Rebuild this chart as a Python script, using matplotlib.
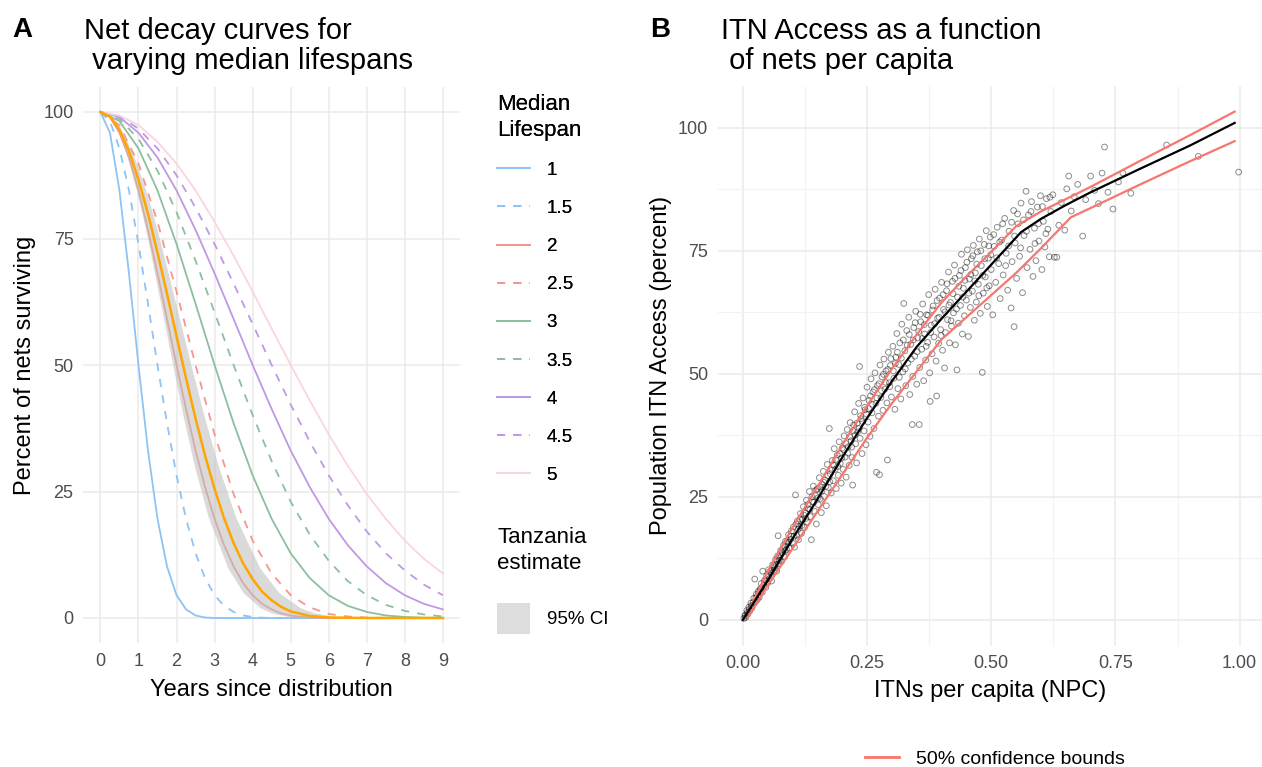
import matplotlib
matplotlib.use("Agg")
import matplotlib.pyplot as plt
from matplotlib.lines import Line2D
from matplotlib.patches import Patch

plt.rcParams['font.family'] = ['Liberation Sans', 'DejaVu Sans']

# ---------------- Panel A: net decay curves ----------------
median_labels = ["1", "1.5", "2", "2.5", "3", "3.5", "4", "4.5", "5"]
line_colors = ["#8EC3F4", "#8EC3F4", "#F6968E", "#F6968E", "#8DBF9F",
               "#8DBF9F", "#BF98E6", "#BF98E6", "#F9D6DF"]
line_styles = ["solid", "dashed"] * 4 + ["solid"]

years_m1 = [0, 0.25, 0.5, 0.75, 1.0, 1.25, 1.5, 1.75, 2.0, 2.25, 2.5, 2.75, 3.0, 9.0]
surv_m1 = [100, 95.9, 84.5, 68.1, 50.0, 33.1, 19.6, 10.2, 4.5, 1.7, 0.5, 0.1, 0.0, 0.0]

years_m15 = [0, 0.25, 0.5, 0.75, 1.0, 1.25, 1.5, 1.75, 2.0, 2.25, 2.5, 2.75, 3.0,
             3.25, 3.5, 3.75, 4.0, 4.25, 4.5, 9.0]
surv_m15 = [100, 98.2, 92.8, 84.5, 73.9, 62.1, 50.0, 38.5, 28.2, 19.6, 12.8, 7.9, 4.5,
            2.4, 1.2, 0.5, 0.2, 0.06, 0.02, 0.0]

years_m2 = [0, 0.25, 0.5, 0.75, 1.0, 1.25, 1.5, 1.75, 2.0, 2.25, 2.5, 2.75, 3.0,
            3.25, 3.5, 3.75, 4.0, 4.25, 4.5, 4.75, 5.0, 5.25, 5.5, 5.75, 6.0, 9.0]
surv_m2 = [100, 99.0, 95.9, 91.0, 84.5, 76.7, 68.1, 59.1, 50.0, 41.3, 33.1, 25.9, 19.6,
           14.4, 10.2, 6.9, 4.5, 2.8, 1.7, 0.9, 0.5, 0.25, 0.11, 0.05, 0.02, 0.0]

years_half = [0, 0.5, 1.0, 1.5, 2.0, 2.5, 3.0, 3.5, 4.0, 4.5, 5.0, 5.5, 6.0, 6.5,
              7.0, 7.5, 8.0, 8.5, 9.0]
surv_m25 = [100, 97.4, 89.8, 78.3, 64.5, 50.0, 36.3, 24.5, 15.3, 8.8, 4.5, 2.1, 0.8,
            0.3, 0.08, 0.02, 0.0, 0.0, 0.0]
surv_m3 = [100, 98.2, 92.8, 84.5, 73.9, 62.1, 50.0, 38.5, 28.2, 19.6, 12.8, 7.9, 4.5,
           2.4, 1.2, 0.5, 0.2, 0.06, 0.02]
surv_m35 = [100, 98.6, 94.7, 88.4, 80.2, 70.6, 60.4, 50.0, 40.1, 31.0, 23.0, 16.5, 11.3,
            7.3, 4.5, 2.6, 1.4, 0.7, 0.3]
surv_m4 = [100, 99.0, 95.9, 91.0, 84.5, 76.7, 68.1, 59.1, 50.0, 41.3, 33.1, 25.9, 19.6,
           14.4, 10.2, 6.9, 4.5, 2.8, 1.7]
surv_m45 = [100, 99.2, 96.7, 92.8, 87.5, 81.1, 73.9, 66.1, 58.1, 50.0, 42.2, 34.9, 28.2,
            22.3, 17.1, 12.8, 9.4, 6.6, 4.5]
surv_m5 = [100, 99.3, 97.4, 94.1, 89.8, 84.5, 78.3, 71.6, 64.5, 57.2, 50.0, 43.0, 36.3,
           30.1, 24.5, 19.6, 15.3, 11.7, 8.8]

curve_years = [years_m1, years_m15, years_m2, years_half, years_half,
               years_half, years_half, years_half, years_half]
curve_surv = [surv_m1, surv_m15, surv_m2, surv_m25, surv_m3,
              surv_m35, surv_m4, surv_m45, surv_m5]

# Tanzania estimate and its 95% CI
years_tz = [0, 0.25, 0.5, 0.75, 1.0, 1.25, 1.5, 1.75, 2.0, 2.25, 2.5, 2.75, 3.0,
            3.25, 3.5, 3.75, 4.0, 4.25, 4.5, 4.75, 5.0, 5.5, 6.0, 7.0, 9.0]
surv_tz = [100, 99.1, 96.5, 92.3, 86.6, 79.9, 72.2, 64.1, 55.7, 47.4, 39.4, 32.1, 25.5,
           19.7, 14.8, 10.8, 7.7, 5.2, 3.5, 2.2, 1.3, 0.4, 0.1, 0.0, 0.0]
ci_levels = [100, 99, 97, 95, 90, 85, 80, 75, 70, 60, 50, 40, 30, 20, 10, 5, 2, 1, 0.3, 0.1, 0]
ci_lower_years = [0, 0.23, 0.40, 0.53, 0.75, 0.93, 1.09, 1.24, 1.37, 1.64, 1.90, 2.17,
                  2.47, 2.83, 3.34, 3.75, 4.20, 4.49, 4.93, 5.26, 6.0]
ci_upper_years = [0, 0.29, 0.51, 0.66, 0.94, 1.17, 1.37, 1.55, 1.72, 2.05, 2.38, 2.72,
                  3.10, 3.55, 4.18, 4.69, 5.26, 5.63, 6.17, 6.59, 9.0]

# ---------------- Panel B: ITN access vs nets per capita ----------------
npc_fit = [0, 0.05, 0.1, 0.15, 0.2, 0.25, 0.3, 0.35, 0.4, 0.45, 0.5, 0.56,
           0.6, 0.65, 0.7, 0.8, 0.9, 0.99]
access_fit = [0, 8, 16.5, 24.5, 33, 41, 48.5, 55.5, 61.2, 66.7, 72.2, 78.8,
              81.5, 84.3, 86.9, 91.7, 96.4, 101]
npc_upper = [0.01, 0.05, 0.1, 0.15, 0.2, 0.25, 0.3, 0.35, 0.4, 0.45, 0.5, 0.55,
             0.6, 0.65, 0.7, 0.8, 0.9, 0.99]
access_upper = [1.5, 9.8, 18.8, 27, 35.5, 43.5, 51, 58, 64.5, 69.8, 74.8, 80,
                83, 85.5, 88, 93.3, 98.5, 103.3]
npc_lower = [0.01, 0.05, 0.1, 0.15, 0.2, 0.25, 0.3, 0.35, 0.4, 0.45, 0.5, 0.55,
             0.6, 0.66, 0.7, 0.8, 0.9, 0.99]
access_lower = [0.5, 7, 14.5, 22, 29.5, 37, 44, 50.5, 57, 61.5, 66, 70.5,
                75.5, 81.8, 83.7, 88.5, 93.2, 97.3]

obs_npc = [
    0.002, 0.004, 0.006, 0.008, 0.010, 0.012, 0.014, 0.016, 0.018, 0.020, 0.022, 0.024, 0.025,
    0.027, 0.029, 0.031, 0.033, 0.035, 0.037, 0.039, 0.040, 0.042, 0.044, 0.046, 0.048, 0.050,
    0.052, 0.054, 0.056, 0.058, 0.060, 0.062, 0.064, 0.066, 0.068, 0.070, 0.071, 0.072, 0.074,
    0.076, 0.078, 0.080, 0.082, 0.084, 0.086, 0.088, 0.090, 0.092, 0.094, 0.096, 0.098, 0.100,
    0.102, 0.104, 0.106, 0.108, 0.110, 0.112, 0.114, 0.116, 0.118, 0.120, 0.122, 0.124, 0.126,
    0.128, 0.130, 0.132, 0.134, 0.136, 0.138, 0.140, 0.142, 0.144, 0.146, 0.148, 0.150, 0.152,
    0.154, 0.156, 0.158, 0.160, 0.162, 0.164, 0.166, 0.168, 0.170, 0.172, 0.174, 0.176, 0.178,
    0.180, 0.182, 0.184, 0.186, 0.188, 0.190, 0.192, 0.194, 0.196, 0.198, 0.200,
    0.202, 0.204, 0.206, 0.208, 0.210, 0.212, 0.214, 0.216, 0.218, 0.220, 0.221, 0.223, 0.225,
    0.227, 0.229, 0.231, 0.233, 0.235, 0.236, 0.238, 0.240, 0.242, 0.244, 0.246, 0.248, 0.250,
    0.252, 0.254, 0.256, 0.258, 0.260, 0.262, 0.264, 0.266, 0.268, 0.269, 0.271, 0.273, 0.275,
    0.276, 0.278, 0.280, 0.282, 0.284, 0.286, 0.288, 0.290, 0.291, 0.293, 0.295, 0.297, 0.299,
    0.302, 0.304, 0.306, 0.308, 0.310, 0.312, 0.314, 0.316, 0.318, 0.320, 0.322, 0.324, 0.326,
    0.328, 0.330, 0.332, 0.334, 0.336, 0.338, 0.341, 0.342, 0.344, 0.346, 0.348, 0.350, 0.352,
    0.355, 0.356, 0.358, 0.360, 0.362, 0.364, 0.366, 0.368, 0.370, 0.372, 0.374, 0.376, 0.377,
    0.379, 0.381, 0.383, 0.385, 0.387, 0.389, 0.390, 0.392, 0.394, 0.396, 0.398, 0.400,
    0.402, 0.404, 0.406, 0.408, 0.410, 0.412, 0.414, 0.416, 0.418, 0.420, 0.422, 0.424, 0.426,
    0.428, 0.431, 0.432, 0.434, 0.436, 0.438, 0.440, 0.442, 0.444, 0.446, 0.448, 0.450, 0.452,
    0.454, 0.456, 0.458, 0.460, 0.462, 0.464, 0.466, 0.468, 0.470, 0.472, 0.474, 0.476, 0.478,
    0.480, 0.482, 0.484, 0.486, 0.488, 0.490, 0.492, 0.494, 0.496, 0.498, 0.500,
    0.503, 0.506, 0.509, 0.512, 0.515, 0.518, 0.521, 0.524, 0.527, 0.530, 0.533, 0.536, 0.540,
    0.542, 0.545, 0.546, 0.548, 0.551, 0.554, 0.557, 0.560, 0.563, 0.566, 0.570, 0.572, 0.575,
    0.578, 0.581, 0.584, 0.587, 0.590, 0.593, 0.596, 0.599, 0.602, 0.605, 0.608, 0.611, 0.614,
    0.617, 0.620,
    0.624, 0.627, 0.632, 0.636, 0.641, 0.648, 0.652, 0.656, 0.661, 0.667, 0.674, 0.684, 0.690,
    0.700, 0.708, 0.716, 0.723, 0.728, 0.735, 0.745, 0.756, 0.765, 0.781, 0.853, 0.917, 0.998,
    0.005, 0.009, 0.013, 0.017, 0.021, 0.026, 0.030, 0.034, 0.038, 0.043, 0.047, 0.051, 0.055,
    0.059, 0.063, 0.067, 0.073, 0.077, 0.081, 0.085, 0.089, 0.093, 0.097,
    0.103, 0.107, 0.111, 0.115, 0.119, 0.123, 0.127, 0.131, 0.135, 0.139, 0.143, 0.147, 0.151,
    0.155, 0.159, 0.163, 0.167, 0.171, 0.175, 0.179, 0.183, 0.187, 0.191, 0.195, 0.199,
    0.203, 0.207, 0.211, 0.215, 0.219, 0.222, 0.226, 0.230, 0.234, 0.237, 0.241, 0.245, 0.249,
    0.253, 0.257, 0.261, 0.265, 0.270, 0.274, 0.279, 0.283, 0.287, 0.292, 0.296, 0.298,
    0.303, 0.307, 0.311, 0.315, 0.319, 0.323, 0.327, 0.331, 0.335, 0.339, 0.343, 0.347, 0.351,
    0.354, 0.357, 0.361, 0.365, 0.369, 0.373, 0.378, 0.382, 0.386, 0.391, 0.395, 0.399,
    0.403, 0.407, 0.411, 0.415, 0.419, 0.423, 0.427, 0.430, 0.435, 0.439, 0.443, 0.447, 0.451,
    0.455, 0.459, 0.463, 0.467, 0.471, 0.475, 0.479, 0.483, 0.487, 0.491, 0.495, 0.499,
    0.505, 0.511, 0.517, 0.523, 0.529, 0.535, 0.541, 0.547, 0.553, 0.559, 0.565, 0.571, 0.580,
    0.588, 0.595, 0.603, 0.610, 0.618,
]
obs_access = [
    0.3, 0.8, 0.5, 1.9, 1.2, 2.6, 1.8, 3.4, 2.4, 3.0, 4.4, 8.3, 3.6,
    5.2, 4.1, 5.8, 4.6, 6.3, 7.4, 5.6, 9.9, 7.0, 8.1, 6.6, 9.0, 7.5,
    10.2, 8.4, 9.5, 7.9, 11.2, 9.8, 10.6, 12.3, 9.9, 13.0, 17.1, 11.4, 12.6,
    14.1, 11.9, 13.7, 15.2, 12.8, 16.0, 14.3, 15.5, 17.3, 14.6, 16.4, 18.1, 15.6,
    18.9, 14.8, 25.4, 17.2, 20.1, 16.3, 19.0, 21.6, 17.6, 20.4, 23.0, 18.8, 21.7,
    24.3, 19.9, 22.6, 26.1, 21.0, 16.3, 24.0, 27.2, 22.1, 25.3, 19.5, 26.6, 23.4,
    28.9, 24.6, 21.8, 27.5, 30.2, 25.1, 28.4, 23.2, 31.6, 26.9, 38.9, 29.7, 25.8,
    32.4, 28.3, 34.8, 30.6, 26.7, 33.5, 29.4, 36.2, 31.8, 27.8, 34.9,
    30.6, 37.4, 33.1, 29.0, 38.7, 35.2, 31.4, 40.1, 36.4, 33.0, 27.4, 39.6, 42.3,
    35.8, 31.9, 38.2, 44.0, 51.5, 36.9, 40.9, 33.8, 45.1, 38.4, 42.7, 35.6, 47.3,
    40.2, 44.6, 37.3, 49.0, 42.1, 46.3, 38.9, 50.2, 44.0, 30.0, 47.6, 41.4, 29.5,
    51.8, 45.2, 49.4, 42.6, 53.0, 46.9, 50.6, 44.1, 32.5, 54.4, 48.2, 51.7, 45.3,
    55.6, 49.1, 42.8, 53.4, 58.2, 47.0, 51.9, 56.3, 44.9, 60.1, 50.4, 64.3, 54.7,
    47.6, 58.8, 52.2, 61.5, 45.8, 56.0, 39.7, 49.5, 59.4, 53.6, 62.7, 47.9, 57.3,
    39.7, 51.3, 60.6, 55.0, 64.2, 48.6, 58.1, 52.8, 62.0, 56.4, 66.1, 50.2, 44.4,
    59.9, 54.1, 63.8, 57.5, 67.2, 52.6, 45.5, 61.3, 56.2, 65.4, 59.0, 68.6,
    54.8, 63.1, 51.2, 58.4, 66.9, 61.0, 70.7, 56.3, 64.5, 59.7, 68.8, 62.4, 72.1,
    55.9, 50.8, 65.6, 60.3, 70.0, 63.9, 74.3, 58.1, 67.4, 61.8, 71.6, 65.0, 75.2,
    57.6, 69.3, 63.5, 73.4, 66.8, 76.1, 60.9, 70.5, 64.6, 74.8, 68.2, 77.4, 62.3,
    72.0, 50.3, 66.4, 76.3, 69.7, 79.1, 63.7, 73.5, 67.9, 77.8, 71.2,
    62.0, 75.9, 68.6, 79.8, 72.4, 65.3, 77.2, 70.1, 81.6, 74.5, 67.0, 79.0, 63.4,
    72.8, 83.2, 59.6, 76.6, 69.4, 80.5, 73.9, 84.7, 66.5, 78.1, 87.1, 71.6, 82.3,
    75.3, 85.0, 69.8, 79.6, 73.0, 83.9, 77.0, 86.2, 71.2, 81.0, 75.8, 85.6, 79.4,
    73.8, 83.0,
    86.4, 73.7, 73.7, 80.2, 84.8, 79.2, 87.6, 90.2, 83.1, 86.0, 88.5, 78.0, 85.4,
    90.2, 87.3, 84.6, 90.8, 96.1, 86.9, 83.5, 89.0, 90.8, 86.7, 96.5, 94.2, 91.0,
    1.0, 1.5, 2.2, 2.9, 3.6, 4.5, 5.0, 5.9, 6.5, 7.6, 8.2, 8.8, 9.9,
    10.1, 11.0, 11.3, 12.1, 13.2, 14.5, 14.0, 15.9, 15.8, 17.0,
    17.0, 19.5, 18.4, 20.5, 19.2, 21.3, 20.6, 23.5, 22.4, 25.0, 23.9, 26.4, 24.8,
    27.0, 26.2, 28.0, 27.1, 29.3, 28.1, 30.5, 31.4, 32.6, 31.2, 33.8, 32.9,
    34.6, 35.9, 33.9, 37.2, 35.1, 38.4, 37.6, 40.0, 38.9, 41.5, 40.3, 43.2, 41.8,
    42.9, 45.5, 43.8, 46.8, 45.1, 48.0, 46.6, 49.9, 48.3, 50.9, 47.4, 53.1,
    50.6, 52.1, 54.4, 49.3, 53.2, 56.9, 51.0, 55.8, 58.0, 53.0, 56.9, 60.4, 54.5,
    58.6, 62.1, 57.2, 60.0, 55.6, 61.9, 58.4, 63.0, 60.2, 64.9, 61.5, 57.8,
    66.1, 62.6, 68.3, 64.0, 60.8, 66.3, 69.4, 63.2, 67.8, 71.0, 65.6, 69.0, 72.7,
    66.4, 70.2, 74.0, 68.9, 72.3, 65.9, 75.0, 70.0, 73.4, 67.5, 76.0, 74.2,
    78.3, 73.6, 76.8, 80.5, 72.0, 76.0, 80.8, 78.0, 82.5, 75.6, 81.3, 79.0, 83.0,
    76.5, 80.5, 84.0, 78.5, 85.9,
]

W, H = 1262, 767
fig = plt.figure(figsize=(W / 100, H / 100), dpi=100)

grid_col = "#EBEBEB"
tick_col = "#4D4D4D"


def style_axes(ax):
    for sp in ax.spines.values():
        sp.set_visible(False)
    ax.tick_params(length=0, labelsize=13, labelcolor=tick_col, pad=7)
    ax.grid(True, which="major", color=grid_col, lw=1.1)
    ax.set_axisbelow(True)


# ---- Panel A ----
axA = fig.add_axes([83.3 / W, 1 - 643.3 / H, 376.7 / W, 556.6 / H])
style_axes(axA)
handles = []
for yrs, sv, lab, col, ls in zip(curve_years, curve_surv, median_labels, line_colors, line_styles):
    dash = (0, (4.5, 4.5)) if ls == "dashed" else "-"
    ln, = axA.plot(yrs, sv, color=col, lw=1.3, linestyle=dash, label=lab, zorder=2)
    handles.append(ln)
axA.fill_betweenx(ci_levels, ci_lower_years, ci_upper_years, color="#BDBDBD",
                  alpha=0.55, lw=0, zorder=3)
axA.plot(years_tz, surv_tz, color="#FFA500", lw=1.8, zorder=4)
axA.set_xlim(-0.45, 9.45)
axA.set_ylim(-5, 105)
axA.set_xticks(range(0, 10))
axA.set_yticks([0, 25, 50, 75, 100])
axA.set_xlabel("Years since distribution", fontsize=17)
axA.set_ylabel("Percent of nets surviving", fontsize=17)
axA.xaxis.set_label_coords(0.5, -0.064)
axA.yaxis.set_label_coords(-0.125, 0.5)

leg1 = fig.legend(handles=handles, labels=median_labels, loc="upper left",
                  bbox_to_anchor=(497 / W, 1 - 94 / H), frameon=False,
                  title="Median\nLifespan", title_fontsize=16, fontsize=13.5,
                  handlelength=1.75, handletextpad=0.9, labelspacing=1.12,
                  borderpad=0, borderaxespad=0, alignment="left")
leg1.get_title().set_linespacing(1.3)
fig.add_artist(leg1)
ci_patch = Patch(facecolor="#DDDDDD", edgecolor="none")
leg2 = fig.legend(handles=[ci_patch], labels=["95% CI"], loc="upper left",
                  bbox_to_anchor=(497 / W, 1 - 527 / H), frameon=False,
                  title="Tanzania\nestimate", title_fontsize=16, fontsize=13.5,
                  handlelength=1.75, handleheight=2.2, handletextpad=0.9,
                  labelspacing=1.55, borderpad=0, borderaxespad=0, alignment="left")
leg2.get_title().set_linespacing(1.3)

# ---- Panel B ----
axB = fig.add_axes([718 / W, 1 - 645.5 / H, 544 / W, 559.5 / H])
style_axes(axB)
axB.grid(True, which="minor", color="#F2F2F2", lw=0.8)
axB.scatter(obs_npc, obs_access, s=17, facecolors="none", edgecolors="black",
            linewidths=0.7, alpha=0.45, zorder=2)
axB.plot(npc_upper, access_upper, color="#F8766D", lw=1.6, zorder=3)
axB.plot(npc_lower, access_lower, color="#F8766D", lw=1.6, zorder=3)
axB.plot(npc_fit, access_fit, color="black", lw=1.6, zorder=4)
axB.set_xlim(-0.05, 1.045)
axB.set_ylim(-5.2, 108.5)
axB.set_xticks([0, 0.25, 0.5, 0.75, 1.0])
axB.set_xticklabels(["0.00", "0.25", "0.50", "0.75", "1.00"])
axB.set_xticks([0.125, 0.375, 0.625, 0.875], minor=True)
axB.set_yticks([0, 25, 50, 75, 100])
axB.set_yticks([12.5, 37.5, 62.5, 87.5], minor=True)
axB.tick_params(which="minor", length=0)
axB.set_xlabel("ITNs per capita (NPC)", fontsize=17)
axB.set_ylabel("Population ITN Access (percent)", fontsize=17)
axB.xaxis.set_label_coords(0.5, -0.062)
axB.yaxis.set_label_coords(-0.085, 0.5)

fig.legend(handles=[Line2D([], [], color="#F8766D", lw=2)],
           labels=["50% confidence bounds"], loc="center",
           bbox_to_anchor=(995 / W, 1 - 759 / H), frameon=False, fontsize=14,
           handlelength=1.75, handletextpad=0.9)

# ---- titles ----
fig.text(12 / W, 1 - 30 / H, "A", fontsize=20, fontweight="bold", va="center")
fig.text(84 / W, 1 - 31 / H, "Net decay curves for", fontsize=21, va="center")
fig.text(84 / W, 1 - 61 / H, " varying median lifespans", fontsize=21, va="center")
fig.text(650 / W, 1 - 30 / H, "B", fontsize=20, fontweight="bold", va="center")
fig.text(721 / W, 1 - 31 / H, "ITN Access as a function", fontsize=21, va="center")
fig.text(721 / W, 1 - 61 / H, " of nets per capita", fontsize=21, va="center")

fig.savefig("out.png", dpi=100, facecolor="white")
